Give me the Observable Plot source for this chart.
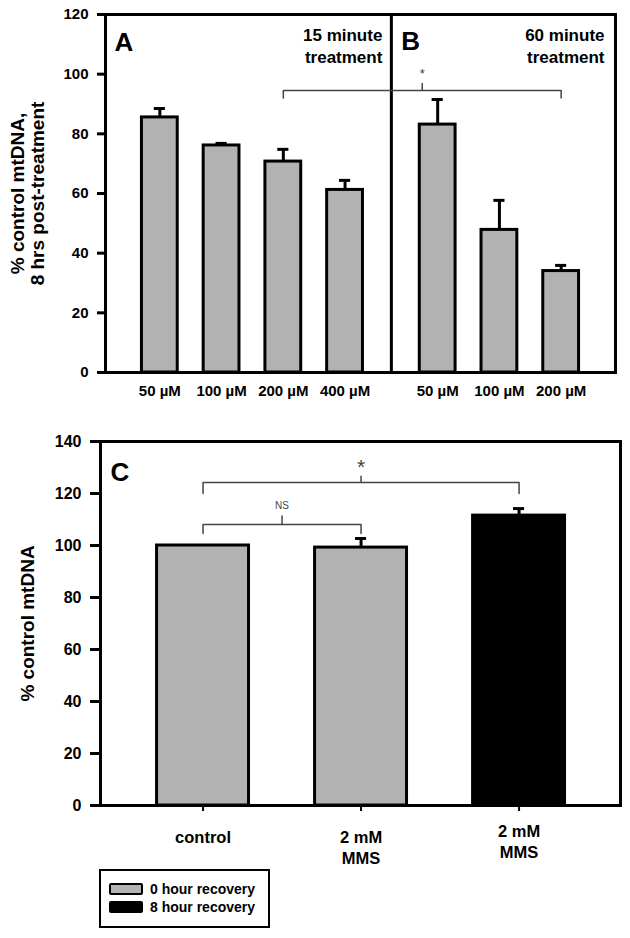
<!DOCTYPE html>
<html>
<head>
<meta charset="utf-8">
<script src="https://cdn.jsdelivr.net/npm/d3@7"></script>
<script src="https://cdn.jsdelivr.net/npm/@observablehq/plot@0.6"></script>
<style>
  html, body { margin: 0; padding: 0; background: white; }
  #wrap { position: relative; width: 630px; height: 938px; font-family: "Liberation Sans", Arial, sans-serif; }
  #wrap svg { display: block; }
  #legend { position: absolute; left: 99px; top: 869px; width: 167px; height: 55px; border: 2px solid black; box-sizing: content-box; background: white; }
  .item { position: absolute; left: 8px; display: flex; align-items: center; font-size: 14px; font-weight: bold; }
  .sw { width: 30px; height: 8px; border: 2px solid black; border-radius: 2px; margin-right: 7px; }
</style>
</head>
<body>
<div id="wrap"></div>
<script>
// ---- Panel A / B data (15 and 60 minute treatment) ----
const labelsA = ["50 µM", "100 µM", "200 µM", "400 µM"];
const valuesA = [85.5, 76.1, 70.7, 61.2];
const errorsA = [3.0, 0.7, 4.1, 3.2];
const labelsB = ["50 µM", "100 µM", "200 µM"];
const valuesB = [83.1, 47.8, 34.0];
const errorsB = [8.4, 9.9, 1.9];
const panelTitles = ["A", "B"];
const panelNotes = ["15 minute\ntreatment", "60 minute\ntreatment"];
const ticksTop = [0, 20, 40, 60, 80, 100, 120];
const titleTop = "% control mtDNA,\n8 hrs post-treatment";
// significance bracket: A "200 µM" vs B "200 µM"
const bracketTop = {fromA: 2, toB: 2, level: 94.5, hook: 92, tick: 96.9, label: "*", labelAt: 100.2};

// ---- Panel C data ----
const labelsC = ["control", "2 mM\nMMS", "2 mM\nMMS"];
const groupsC = ["0 hour recovery", "0 hour recovery", "8 hour recovery"];
const valuesC = [100, 99.2, 111.5];
const errorsC = [0, 3.5, 2.7];
const legendLabels = ["0 hour recovery", "8 hour recovery"];
const legendColors = ["#b2b2b2", "#000000"];
const ticksC = [0, 20, 40, 60, 80, 100, 120, 140];
const titleC = "% control mtDNA";
const bracketsC = [
  {from: 0, to: 1, level: 108.1, hook: 104.6, tick: 111.3, label: "NS", labelAt: 115.2},
  {from: 0, to: 2, level: 124.2, hook: 120.0, tick: 126.6, label: "*", labelAt: 130.0}
];

const font = "'Liberation Sans', Arial, sans-serif";
const gray = "#b2b2b2";
const wrap = document.getElementById("wrap");

// ---------- Top plot ----------
const rowsTop = [
  ...labelsA.map((label, i) => ({label, value: valuesA[i], err: errorsA[i], pos: i + 1})),
  ...labelsB.map((label, i) => ({label, value: valuesB[i], err: errorsB[i], pos: labelsA.length + 1.5 + i}))
];
const divider = labelsA.length + 0.75;
const hwTop = 0.29, capTop = 0.09;
const bx1 = rowsTop[bracketTop.fromA].pos;
const bx2 = rowsTop[labelsA.length + bracketTop.toB].pos;
const bmid = (bx1 + bx2) / 2;
const bracketPathTop = [
  {x: bx1, y: bracketTop.hook}, {x: bx1, y: bracketTop.level},
  {x: bx2, y: bracketTop.level}, {x: bx2, y: bracketTop.hook}
];

const topChart = Plot.plot({
  width: 630, height: 420,
  marginLeft: 105, marginRight: 15, marginTop: 14, marginBottom: 48,
  style: {fontFamily: font, background: "white", color: "black"},
  x: {type: "linear", domain: [0.12, 8.38], axis: null},
  y: {domain: [0, 120], axis: null},
  marks: [
    Plot.rect(rowsTop, {x1: d => d.pos - hwTop, x2: d => d.pos + hwTop, y1: 0, y2: "value", fill: gray, stroke: "black", strokeWidth: 3}),
    Plot.ruleX(rowsTop, {x: "pos", y1: "value", y2: d => d.value + d.err, stroke: "black", strokeWidth: 3}),
    Plot.ruleY(rowsTop, {y: d => d.value + d.err, x1: d => d.pos - capTop, x2: d => d.pos + capTop, stroke: "black", strokeWidth: 3}),
    Plot.ruleX([divider], {stroke: "black", strokeWidth: 3}),
    Plot.line(bracketPathTop, {x: "x", y: "y", stroke: "#444", strokeWidth: 1.5}),
    Plot.ruleX([bmid], {y1: bracketTop.level, y2: bracketTop.tick, stroke: "#444", strokeWidth: 1.5}),
    Plot.text([bracketTop.label], {x: bmid, y: bracketTop.labelAt, text: d => d, fontSize: 13, fill: "#444"}),
    Plot.frame({stroke: "black", strokeWidth: 3}),
    Plot.axisY({ticks: ticksTop, tickSize: 8, tickPadding: 9, strokeWidth: 3, fontSize: 15, fontWeight: "bold", label: null}),
    Plot.text(rowsTop, {x: "pos", text: "label", frameAnchor: "bottom", lineAnchor: "middle", dy: 19, fontSize: 15, fontWeight: "bold"}),
    Plot.text([titleTop], {text: d => d, frameAnchor: "left", textAnchor: "middle", lineAnchor: "middle", rotate: -90, dx: -78, fontSize: 19, fontWeight: "bold", lineHeight: 1.05}),
    Plot.text([panelTitles[0]], {text: d => d, frameAnchor: "top-left", textAnchor: "start", lineAnchor: "top", dx: 9, dy: 18, fontSize: 26, fontWeight: "bold"}),
    Plot.text([panelTitles[1]], {x: divider, text: d => d, frameAnchor: "top", textAnchor: "start", lineAnchor: "top", dx: 10, dy: 17, fontSize: 26, fontWeight: "bold"}),
    Plot.text([panelNotes[0]], {x: divider, text: d => d, frameAnchor: "top", textAnchor: "end", lineAnchor: "top", dx: -9, dy: 11, fontSize: 17, fontWeight: "bold", lineHeight: 1.3}),
    Plot.text([panelNotes[1]], {text: d => d, frameAnchor: "top-right", textAnchor: "end", lineAnchor: "top", dx: -11, dy: 11, fontSize: 17, fontWeight: "bold", lineHeight: 1.3})
  ]
});
wrap.appendChild(topChart);

// ---------- Bottom plot ----------
const rowsC = labelsC.map((label, i) => ({label, group: groupsC[i], value: valuesC[i], err: errorsC[i], pos: i + 1}));
const hwC = 0.291, capC = 0.035;
const bracketLines = [], bracketTicks = [], bracketLabels = [];
bracketsC.forEach((b, k) => {
  const x1 = rowsC[b.from].pos, x2 = rowsC[b.to].pos, m = (x1 + x2) / 2;
  bracketLines.push({k, x: x1, y: b.hook}, {k, x: x1, y: b.level}, {k, x: x2, y: b.level}, {k, x: x2, y: b.hook});
  bracketTicks.push({x: m, y1: b.level, y2: b.tick});
  bracketLabels.push({x: m, y: b.labelAt, text: b.label});
});

const bottomChart = Plot.plot({
  width: 630, height: 448,
  marginLeft: 100, marginRight: 10, marginTop: 21, marginBottom: 63,
  style: {fontFamily: font, background: "white", color: "black"},
  x: {type: "linear", domain: [0.351, 3.642], axis: null},
  y: {domain: [0, 140], axis: null},
  color: {domain: legendLabels, range: legendColors},
  marks: [
    Plot.rect(rowsC, {x1: d => d.pos - hwC, x2: d => d.pos + hwC, y1: 0, y2: "value", fill: "group", stroke: "black", strokeWidth: 3}),
    Plot.ruleX(rowsC.filter(d => d.err > 0), {x: "pos", y1: "value", y2: d => d.value + d.err, stroke: "black", strokeWidth: 3}),
    Plot.ruleY(rowsC.filter(d => d.err > 0), {y: d => d.value + d.err, x1: d => d.pos - capC, x2: d => d.pos + capC, stroke: "black", strokeWidth: 3}),
    Plot.line(bracketLines, {x: "x", y: "y", z: "k", stroke: "#444", strokeWidth: 1.5}),
    Plot.ruleX(bracketTicks, {x: "x", y1: "y1", y2: "y2", stroke: "#444", strokeWidth: 1.5}),
    Plot.text(bracketLabels.slice(0, 1), {x: "x", y: "y", text: "text", fontSize: 10, fill: "#444"}),
    Plot.text(bracketLabels.slice(1), {x: "x", y: "y", text: "text", fontSize: 21, fill: "#444"}),
    Plot.frame({stroke: "black", strokeWidth: 3}),
    Plot.axisY({ticks: ticksC, tickSize: 10, tickPadding: 9, strokeWidth: 3, fontSize: 16, fontWeight: "bold", label: null}),
    Plot.axisX({ticks: rowsC.map(d => d.pos), tickSize: 6, strokeWidth: 2, tickFormat: () => "", label: null}),
    Plot.text(rowsC.slice(0, 2), {x: "pos", text: "label", frameAnchor: "bottom", lineAnchor: "top", dy: 22, fontSize: 16.5, fontWeight: "bold", lineHeight: 1.3}),
    Plot.text(rowsC.slice(2), {x: "pos", text: "label", frameAnchor: "bottom", lineAnchor: "top", dy: 16, fontSize: 16.5, fontWeight: "bold", lineHeight: 1.3}),
    Plot.text([titleC], {text: d => d, frameAnchor: "left", textAnchor: "middle", lineAnchor: "middle", rotate: -90, dx: -73, fontSize: 19, fontWeight: "bold"}),
    Plot.text(["C"], {text: d => d, frameAnchor: "top-left", textAnchor: "start", lineAnchor: "top", dx: 10, dy: 21, fontSize: 26, fontWeight: "bold"})
  ]
});
wrap.appendChild(bottomChart);

// ---------- Legend ----------
const legend = document.createElement("div");
legend.id = "legend";
legendLabels.forEach((lab, i) => {
  const it = document.createElement("div");
  it.className = "item";
  it.style.top = (i === 0 ? 10 : 28) + "px";
  const sw = document.createElement("span");
  sw.className = "sw";
  sw.style.background = legendColors[i];
  const tx = document.createElement("span");
  tx.textContent = lab;
  it.appendChild(sw); it.appendChild(tx);
  legend.appendChild(it);
});
wrap.appendChild(legend);
</script>
</body>
</html>
